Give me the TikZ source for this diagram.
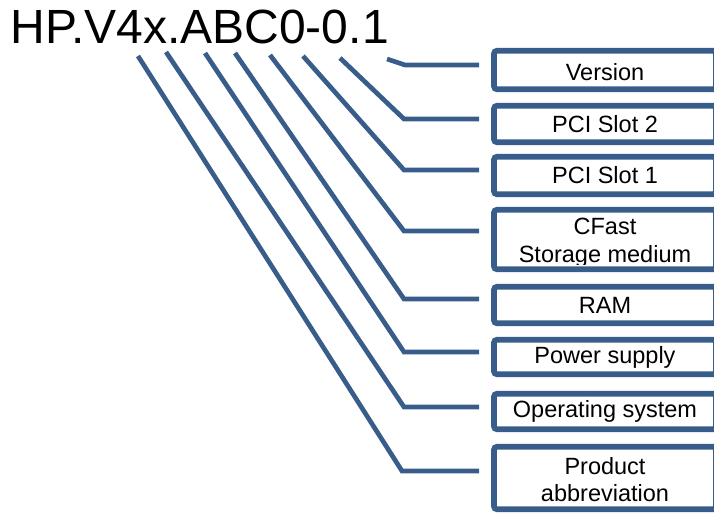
\documentclass[tikz,border=0pt]{standalone}
\usepackage{fontspec}
\setmainfont{Liberation Sans}
\definecolor{lineblue}{RGB}{56,93,138}
\begin{document}
\begin{tikzpicture}[x=1pt,y=1pt,
  infobox/.style={draw=lineblue, line width=5.7pt, rounded corners=3pt, minimum width=222pt,
    inner sep=0pt, align=center, font=\fontsize{23.5}{28}\selectfont},
  conn/.style={draw=lineblue, line width=4.7pt}]
\useasboundingbox (0,0) rectangle (714,-514);
\clip (0,0) rectangle (714,-514);
\node[anchor=base west, inner sep=0pt, font=\fontsize{48}{56}\selectfont] (title) at (10.5,-43) {HP.V4x.ABC0-0.1};

\node[infobox, minimum height=38.5pt] (ver) at (605,-70) {};
\node at (605,-72) [font=\fontsize{23.5}{28}\selectfont] (vert) {Version};
\node[infobox, minimum height=36.5pt] (pci2) at (605,-124) {PCI Slot 2};
\node[infobox, minimum height=37.5pt] (pci1) at (605,-175.5) {PCI Slot 1};
\node[infobox, minimum height=59.5pt] (cf) at (605,-239.5) {};
\begin{scope}
  \clip (491,-207) rectangle (719,-264);
  \node[align=center, inner sep=0pt, font=\fontsize{23.5}{28}\selectfont] (cft) at (605,-243) {CFast\\Storage medium};
\end{scope}
\node[infobox, minimum height=36.5pt] (ram) at (605,-305) {RAM};
\node[infobox, minimum height=34.5pt] (pow) at (605,-357) {Power supply};
\node[infobox, minimum height=35.5pt] (os) at (605,-411.5) {Operating system};
\node[infobox, minimum height=62.5pt] (prod) at (605,-478) {};
\node[align=center, inner sep=0pt, font=\fontsize{23.5}{27}\selectfont] (prodt) at (605,-480) {Product\\abbreviation};

% connector coordinates
\coordinate (s1) at (387,-59);  \coordinate (k1) at (405,-65);  \coordinate (e1) at (479,-65);
\coordinate (s2) at (340,-58);  \coordinate (k2) at (404,-119); \coordinate (e2) at (479,-119);
\coordinate (s3) at (303,-56);  \coordinate (k3) at (404,-170); \coordinate (e3) at (479,-170);
\coordinate (s4) at (270,-55);  \coordinate (k4) at (404,-231); \coordinate (e4) at (479,-231);
\coordinate (s5) at (235,-53);  \coordinate (k5) at (404,-299); \coordinate (e5) at (479,-299);
\coordinate (s6) at (205,-53);  \coordinate (k6) at (404,-352); \coordinate (e6) at (479,-352);
\coordinate (s7) at (166,-52);  \coordinate (k7) at (404,-407); \coordinate (e7) at (479,-407);
\coordinate (s8) at (138,-56);  \coordinate (k8) at (402,-471); \coordinate (e8) at (479,-471);

\foreach \i in {1,...,8} {
  \draw[conn] (s\i) -- (k\i) -- (e\i);
}
\end{tikzpicture}
\end{document}
